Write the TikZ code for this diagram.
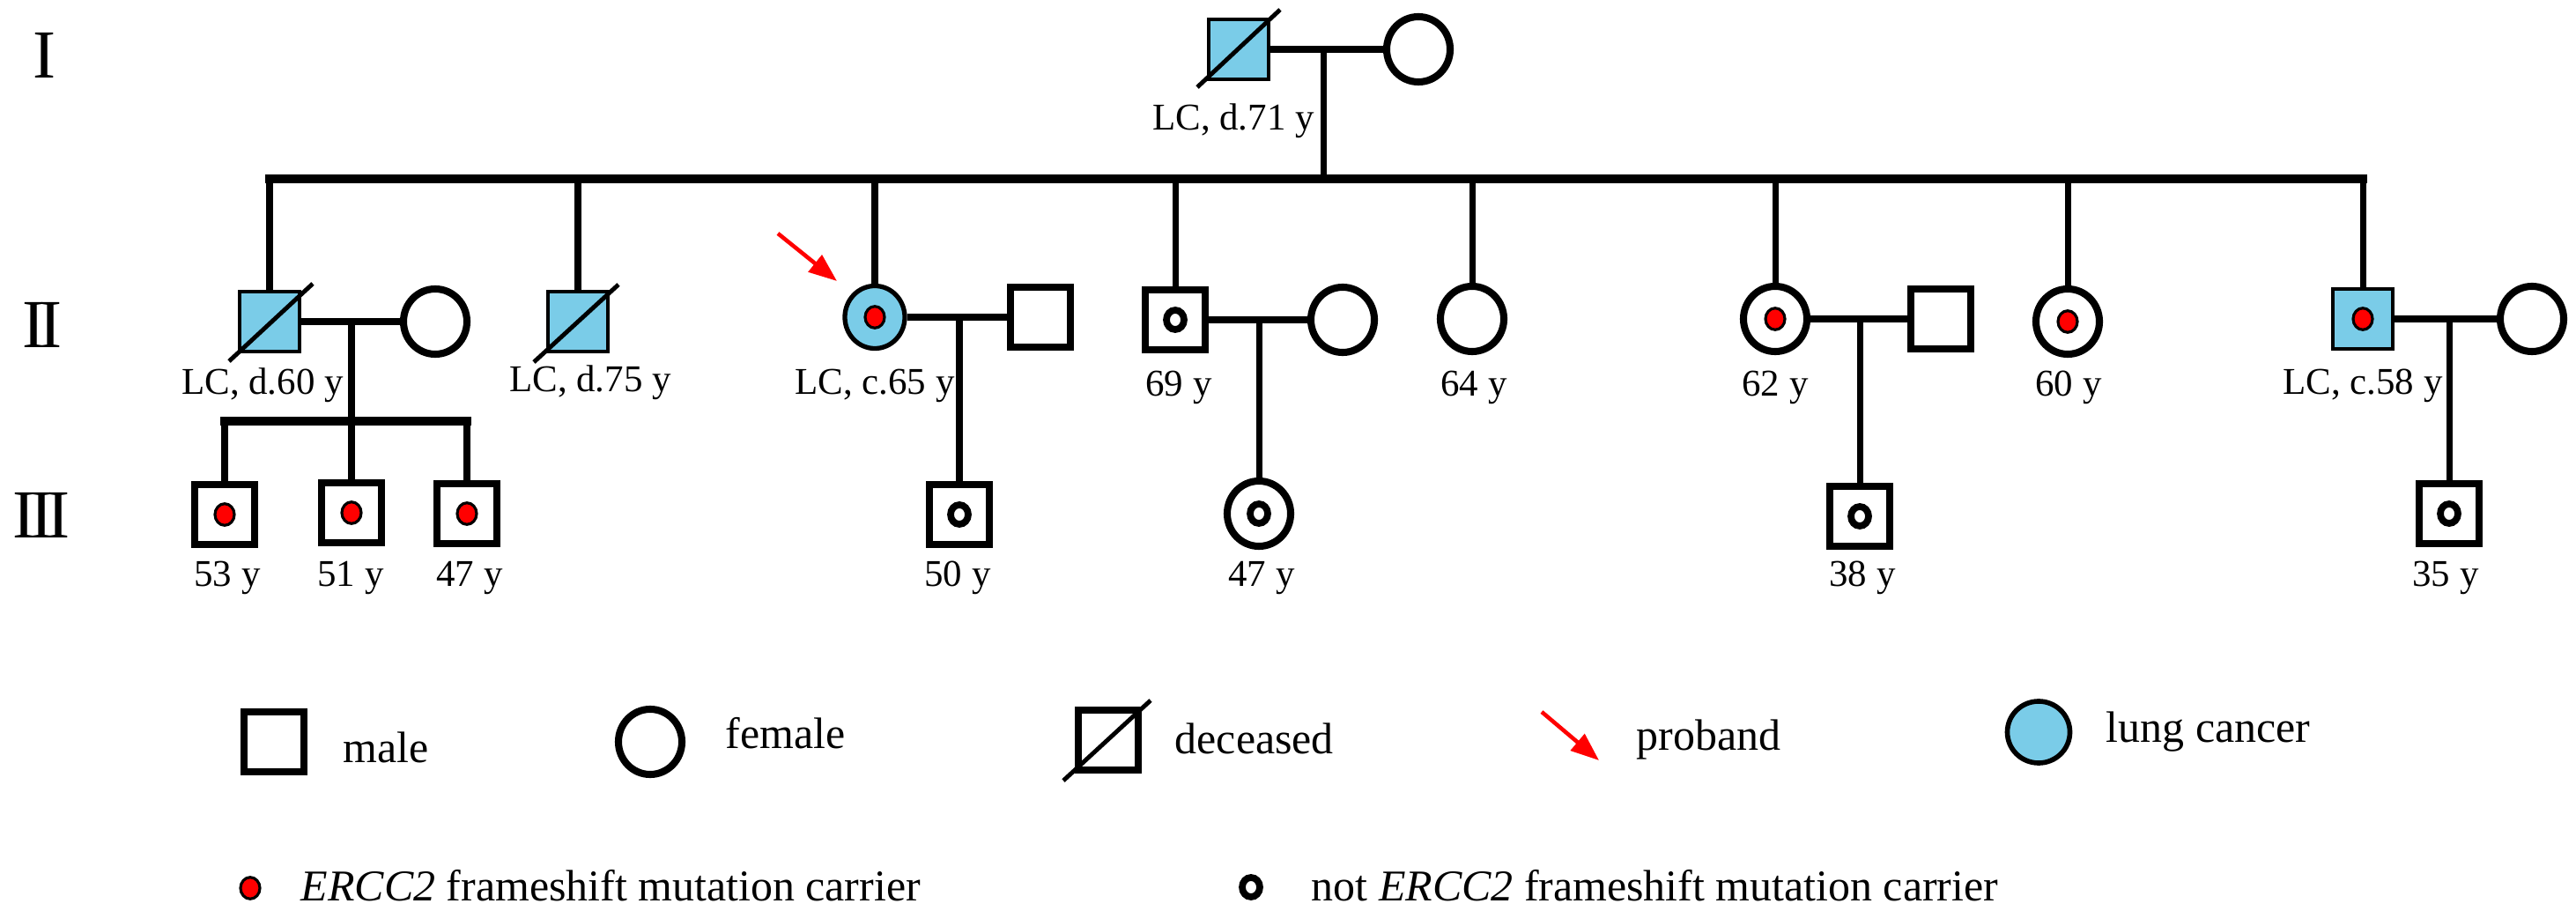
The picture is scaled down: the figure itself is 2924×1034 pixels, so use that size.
\documentclass[tikz,border=0pt]{standalone}
\usepackage{fontspec}
\setmainfont{Liberation Serif}
\usetikzlibrary{shapes.geometric,arrows.meta,calc}
\definecolor{lcblue}{RGB}{122,204,232}
\begin{document}
\begin{tikzpicture}[x=0.01cm,y=-0.01cm,
  male/.style={rectangle,draw,fill=white,line width=2.3pt,minimum size=0.68cm,inner sep=0pt},
  female/.style={ellipse,draw,fill=white,line width=2.3pt,minimum width=0.72cm,minimum height=0.74cm,inner sep=0pt},
  affm/.style={fill=lcblue,line width=1pt},
  afff/.style={fill=lcblue,line width=1.5pt,minimum width=0.68cm,minimum height=0.71cm},
  carrier/.style={ellipse,draw,fill=red,line width=0.9pt,minimum width=0.22cm,minimum height=0.245cm,inner sep=0pt},
  noncarrier/.style={ellipse,draw,line width=2.2pt,minimum width=0.20cm,minimum height=0.22cm,inner sep=0pt},
  hline/.style={line width=2.5pt},
  sibline/.style={line width=2.6pt,line cap=rect},
  vline/.style={line width=2pt},
  slash/.style={line width=1.4pt},
  lab/.style={font=\fontsize{12.2}{14}\selectfont,anchor=base,inner sep=0pt},
  leg/.style={font=\fontsize{14.2}{17}\selectfont,anchor=base west,inner sep=0pt},
  gen/.style={font=\fontsize{22.2}{26}\selectfont,anchor=base,inner sep=0pt},
  proarrow/.style={red,line width=1.3pt,-{Triangle[length=0.32cm,width=0.24cm]}}
]
\fill[white] (0,0) rectangle (2924,1034);
\useasboundingbox (0,0) rectangle (2924,1034);

% generation labels
\node[gen] (g1) at (50,89) {I};
\node[gen] (g2) at (48,395) {I\kern-0.08em I};
\node[gen] (g3) at (47,611) {I\kern-0.08em I\kern-0.08em I};

% generation I
\node[male,affm] (I1) at (1406,56) {};
\node[female] (I2) at (1610,56) {};
\coordinate (m1) at (1502,56);
\draw[hline] (I1.east) -- (I2.west);
\draw[slash] ($(I1)+(-47,43)$) -- ($(I1)+(47,-45)$);
\node[lab] (lI1) at (1400,148) {LC, d.71 y};

% generation II
\node[male,affm] (II1) at (306,365) {};
\node[female] (II1s) at (494,365) {};
\node[male,affm] (II2) at (656,365) {};
\node[female,afff] (II3) at (993,360) {};
\node[male] (II3s) at (1181,360) {};
\node[male] (II4) at (1334,363) {};
\node[female] (II4s) at (1524,363) {};
\node[female] (II5) at (1671,362) {};
\node[female] (II6) at (2015,362) {};
\node[male] (II6s) at (2203,362) {};
\node[female] (II7) at (2347,365) {};
\node[male,affm] (II8) at (2682,362) {};
\node[female] (II8s) at (2874,362) {};

\coordinate (sL) at (306,203);
\coordinate (sR) at (2682,203);
\draw[sibline] (sL) -- (sR);
\draw[vline] (m1) -- (m1 |- sL);
\foreach \n in {II1,II2,II3,II4,II5,II6,II7,II8}
  \draw[vline] (\n.north) -- (\n.north |- sL);

\draw[slash] ($(II1)+(-46,45)$) -- ($(II1)+(49,-43)$);
\draw[slash] ($(II2)+(-50,46)$) -- ($(II2)+(46,-42)$);

% couples of generation II
\draw[hline] (II1.east) -- (II1s.west);
\draw[hline] (II3.east) -- (II3s.west);
\draw[hline] (II4.east) -- (II4s.west);
\draw[hline] (II6.east) -- (II6s.west);
\draw[hline] (II8.east) -- (II8s.west);
\coordinate (m2) at (399,365);
\coordinate (m3) at (1089,360);
\coordinate (m4) at (1429,363);
\coordinate (m6) at (2111,362);
\coordinate (m8) at (2780,362);

% generation II markers
\node[carrier] (II3c) at (II3) {};
\node[noncarrier] (II4c) at (II4) {};
\node[carrier] (II6c) at (II6) {};
\node[carrier] (II7c) at (II7) {};
\node[carrier] (II8c) at (II8) {};

% generation II labels
\node[lab] (lII1) at (298,448) {LC, d.60 y};
\node[lab] (lII2) at (670,445) {LC, d.75 y};
\node[lab] (lII3) at (993,448) {LC, c.65 y};
\node[lab] (lII4) at (1338,450) {69 y};
\node[lab] (lII5) at (1673,450) {64 y};
\node[lab] (lII6) at (2015,450) {62 y};
\node[lab] (lII7) at (2348,450) {60 y};
\node[lab] (lII8) at (2682,448) {LC, c.58 y};

% proband arrow
\coordinate (pa) at (883,265);
\coordinate (pb) at (950,319);
\draw[proarrow] (pa) -- (pb);

% generation III
\node[male] (III1) at (255,584) {};
\node[male] (III2) at (399,582) {};
\node[male] (III3) at (530,583) {};
\node[male] (III4) at (1089,584) {};
\node[female] (III5) at (1429,583) {};
\node[male] (III6) at (2111,586) {};
\node[male] (III7) at (2780,583) {};

\coordinate (s2) at (399,478);
\draw[vline] (m2) -- (s2);
\draw[sibline] (III1.north |- s2) -- (III3.north |- s2);
\foreach \n in {III1,III2,III3}
  \draw[vline] (\n.north) -- (\n.north |- s2);
\draw[vline] (m3) -- (III4.north);
\draw[vline] (m4) -- (III5.north);
\draw[vline] (m6) -- (III6.north);
\draw[vline] (m8) -- (III7.north);

\node[carrier] (III1c) at (III1) {};
\node[carrier] (III2c) at (III2) {};
\node[carrier] (III3c) at (III3) {};
\node[noncarrier] (III4c) at (III4) {};
\node[noncarrier] (III5c) at (III5) {};
\node[noncarrier] (III6c) at (III6) {};
\node[noncarrier] (III7c) at (III7) {};

\node[lab] (lIII1) at (258,666) {53 y};
\node[lab] (lIII2) at (398,666) {51 y};
\node[lab] (lIII3) at (533,666) {47 y};
\node[lab] (lIII4) at (1087,666) {50 y};
\node[lab] (lIII5) at (1432,666) {47 y};
\node[lab] (lIII6) at (2114,666) {38 y};
\node[lab] (lIII7) at (2776,666) {35 y};

% legend
\node[male] (Lm) at (311,842) {};
\node[leg] (Lmt) at (389,865) {male};
\node[female] (Lf) at (738,842) {};
\node[leg] (Lft) at (823,850) {female};
\node[male] (Ld) at (1258,840) {};
\draw[slash] ($(Ld)+(-51,46)$) -- ($(Ld)+(48,-45)$);
\node[leg] (Ldt) at (1333,856) {deceased};
\coordinate (La) at (1750,808);
\coordinate (Lb) at (1815,863);
\draw[proarrow] (La) -- (Lb);
\node[leg] (Lpt) at (1857,851) {proband};
\node[female,fill=lcblue,line width=1.6pt,minimum width=0.71cm,minimum height=0.70cm] (Lc) at (2314,831) {};
\node[leg] (Lct) at (2390,842) {lung cancer};
\node[carrier] (Lr) at (284,1008) {};
\node[leg] (Lrt) at (341,1022) {\textit{ERCC2} frameshift mutation carrier};
\node[noncarrier] (Ln) at (1420,1007) {};
\node[leg] (Lnt) at (1488,1022) {not \textit{ERCC2} frameshift mutation carrier};
\end{tikzpicture}
\end{document}
